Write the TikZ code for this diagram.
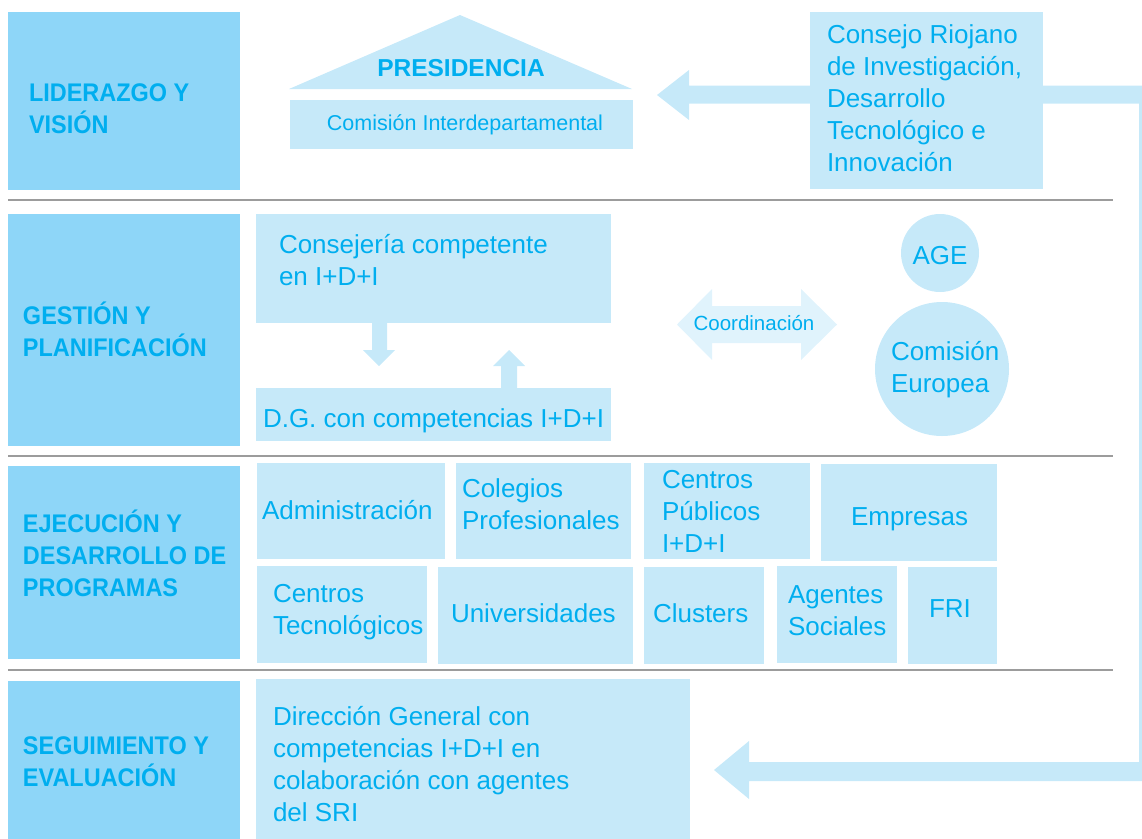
\documentclass[tikz,border=0pt]{standalone}
\usepackage{fontspec}
\setmainfont{Liberation Sans}
\newfontfamily\labf{Liberation Sans}[FakeStretch=0.92]
\usetikzlibrary{calc}
\definecolor{darkc}{HTML}{8ED6F8}
\definecolor{lightc}{HTML}{C6E9F9}
\definecolor{txtc}{HTML}{00AEEF}
\definecolor{coordc}{HTML}{E0F3FC}
\definecolor{sepc}{HTML}{9C9C9C}
\newcommand\mybox[6]{\node[#2, anchor=north west, minimum width={(#5)-(#3)}, minimum height={(#6)-(#4)}] (#1) at (#3,#4) {};}
\newcommand\ml[1]{\vtop{\baselineskip=32pt\lineskiplimit=-100pt\lineskip=0pt\halign{##\hfil\cr#1\crcr}}}
\tikzset{
  labbox/.style={fill=darkc, draw=none, inner sep=0pt, outer sep=0pt},
  lbox/.style={fill=lightc, draw=none, inner sep=0pt, outer sep=0pt},
  bodytext/.style={text=txtc, inner sep=0pt, outer sep=0pt, anchor=base west, font=\fontsize{26}{32}\selectfont},
  labtext/.style={text=txtc, inner sep=0pt, outer sep=0pt, anchor=base west, font=\labf\bfseries\fontsize{25.5}{32}\selectfont},
  sepline/.style={draw=sepc, line width=1.2pt},
  fatarrow/.style={fill=lightc, draw=none},
  coordarrow/.style={fill=coordc, draw=none},
}
\begin{document}
\begin{tikzpicture}[x=1pt,y=-1pt]
\useasboundingbox (0,0) rectangle (1142,838);
\clip (0,0) rectangle (1142,838);

% separator lines
\draw[sepline] (8,200) -- (1113,200);
\draw[sepline] (8,456) -- (1113,456);
\draw[sepline] (8,670) -- (1113,670);

% left label boxes
\mybox{L1}{labbox}{8}{12}{240}{190}
\mybox{L2}{labbox}{8}{214}{240}{446}
\mybox{L3}{labbox}{8}{466}{240}{659}
\mybox{L4}{labbox}{8}{681}{240}{845}
\node[labtext] (l1t) at (29,101) {\ml{LIDERAZGO Y\cr VISIÓN}};
\node[labtext] (l2t) at (23,324) {\ml{GESTIÓN Y\cr PLANIFICACIÓN}};
\node[labtext] (l3t) at (23,532) {\ml{EJECUCIÓN Y\cr DESARROLLO DE\cr PROGRAMAS}};
\node[labtext] (l4t) at (23,754) {\ml{SEGUIMIENTO Y\cr EVALUACIÓN}};

% big return arrow (from Consejo)
\fill[fatarrow] (812,85.5) -- (689,85.5) -- (689,70) -- (657,95) -- (689,120) -- (689,103.5) -- (812,103.5) -- cycle;
\fill[fatarrow] (1040,85.5) -- (1157,85.5) -- (1157,781) -- (749,781) -- (749,799) -- (714,770) -- (749,741) -- (749,762) -- (1139,762) -- (1139,103.5) -- (1040,103.5) -- cycle;

% row 1
\fill[lbox] (289,89) -- (460,15) -- (632,89) -- cycle;
\coordinate (roof) at (460,15);
\node[text=txtc, inner sep=0pt, anchor=base, font=\bfseries\fontsize{24.5}{30}\selectfont] (pres) at (461,76) {PRESIDENCIA};
\mybox{cid}{lbox}{290}{100}{633}{149}
\node[text=txtc, inner sep=0pt, anchor=base, font=\fontsize{21.5}{26}\selectfont] (cidt) at (465,130) {Comisión Interdepartamental};
\mybox{cri}{lbox}{810}{12}{1043}{189}
\node[bodytext] (crit) at (827,43) {\ml{Consejo Riojano\cr de Investigación,\cr Desarrollo\cr Tecnológico e\cr Innovación}};

% row 2
\mybox{conse}{lbox}{256}{214}{611}{323}
\node[bodytext] (consetxt) at (279,253) {\ml{Consejería competente\cr en I+D+I}};
\mybox{dg}{lbox}{256}{388}{611}{441}
\node[bodytext] (dgt) at (263,427) {D.G. con competencias I+D+I};
% down arrow (Consejería -> D.G.)
\fill[fatarrow] (372,323) -- (387,323) -- (387,350) -- (395,350) -- (379,366) -- (363,350) -- (372,350) -- cycle;
% up arrow (D.G. -> Consejería)
\fill[fatarrow] (501,388) -- (517,388) -- (517,366) -- (525,366) -- (509,350) -- (493,366) -- (501,366) -- cycle;
% coordination double arrow
\fill[coordarrow] (677,324.5) -- (712,289) -- (712,306) -- (801,306) -- (801,289) -- (837,324.5) -- (801,360) -- (801,343) -- (712,343) -- (712,360) -- cycle;
\node[text=txtc, inner sep=0pt, anchor=base, font=\fontsize{20.5}{24}\selectfont] (coordt) at (754,330) {Coordinación};
\node[circle, fill=lightc, minimum size=78pt, inner sep=0pt] (age) at (940,253) {};
\node[text=txtc, inner sep=0pt, anchor=base, font=\fontsize{26}{32}\selectfont] (aget) at (940,264) {AGE};
\node[circle, fill=lightc, minimum size=134pt, inner sep=0pt] (ce) at (942,369) {};
\node[bodytext] (cet) at (891,360) {\ml{Comisión\cr Europea}};

% row 3
\mybox{adm}{lbox}{257}{463}{445}{559}
\mybox{col}{lbox}{456}{463}{631}{559}
\mybox{cpub}{lbox}{644}{463}{810}{559}
\mybox{emp}{lbox}{821}{464}{997}{561}
\mybox{ctec}{lbox}{257}{566}{427}{663}
\mybox{uni}{lbox}{438}{567}{633}{664}
\mybox{clu}{lbox}{644}{567}{764}{664}
\mybox{ags}{lbox}{777}{566}{897}{663}
\mybox{fri}{lbox}{908}{567}{997}{664}
\node[bodytext] (admt) at (262,519) {Administración};
\node[bodytext] (colt) at (462,497) {\ml{Colegios\cr Profesionales}};
\node[bodytext] (cpubt) at (662,488) {\ml{Centros\cr Públicos\cr I+D+I}};
\node[bodytext] (empt) at (851,525) {Empresas};
\node[bodytext] (ctect) at (273,602) {\ml{Centros\cr Tecnológicos}};
\node[bodytext] (unit) at (451,622) {Universidades};
\node[bodytext] (clut) at (653,622) {Clusters};
\node[bodytext] (agst) at (788,603) {\ml{Agentes\cr Sociales}};
\node[bodytext] (frit) at (929,617) {FRI};

% row 4
\mybox{dgs}{lbox}{256}{679}{690}{845}
\node[bodytext] (dgst) at (273,725) {\ml{Dirección General con\cr competencias I+D+I en\cr colaboración con agentes\cr del SRI}};
\end{tikzpicture}
\end{document}
